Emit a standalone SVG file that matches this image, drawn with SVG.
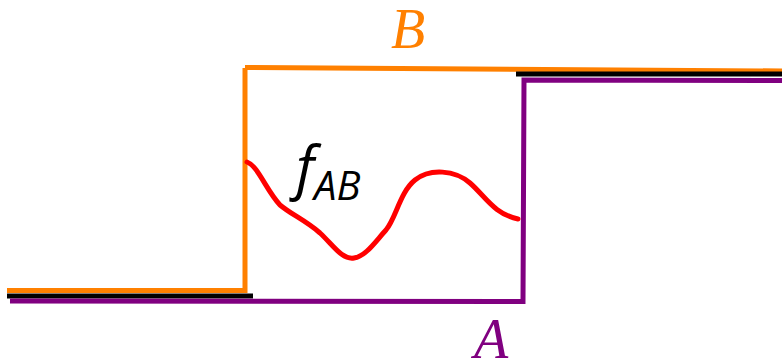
<svg xmlns="http://www.w3.org/2000/svg" width="782" height="363" viewBox="0 0 782 363">
<style>
.ln{fill:none;stroke-width:5;stroke-linecap:butt;stroke-linejoin:miter}
.orange{stroke:#ff8000}
.black{stroke:#000}
.purple{stroke:#800080}
.red{fill:none;stroke:#ff0000;stroke-width:5;stroke-linecap:round}
.lbl{font-family:"Liberation Serif",serif;font-style:italic}
.f{font-family:"Open Sans","DejaVu Sans",sans-serif;font-style:italic;fill:#000}
</style>
<rect width="782" height="363" fill="#fff"/>
<g id="connectors">
<polyline id="pathB" class="ln orange" points="7,290.5 245,290.5 245,68"/>
<polyline class="ln orange" points="245,67.5 782,71"/>
<line id="blackLow" class="ln black" x1="7" y1="296" x2="253" y2="296"/>
<line id="blackHigh" class="ln black" x1="516" y1="74" x2="782" y2="74"/>
<polyline id="pathA" class="ln purple" points="10,301 523,301.5 524,80 782,80.5"/>
<path id="fAB" class="red" d="M247,162 C258,166 266,190 280,205 C292,215 305,220 320,233 C333,245 342,260 354,258 C366,256 375,242 386,230 C396,218 400,192 415,180 C430,168 455,170 470,183 C485,196 494,214 518,219"/>
</g>
<g id="labelB"><text class="lbl" x="391" y="48" font-size="56" fill="#ff8000">B</text></g>
<g id="labelA"><text class="lbl" x="474" y="358" font-size="56" fill="#800080">A</text></g>
<g id="labelF"><text class="f" x="296" y="188" font-size="58">f<tspan font-size="40" dy="12">AB</tspan></text></g>
</svg>
